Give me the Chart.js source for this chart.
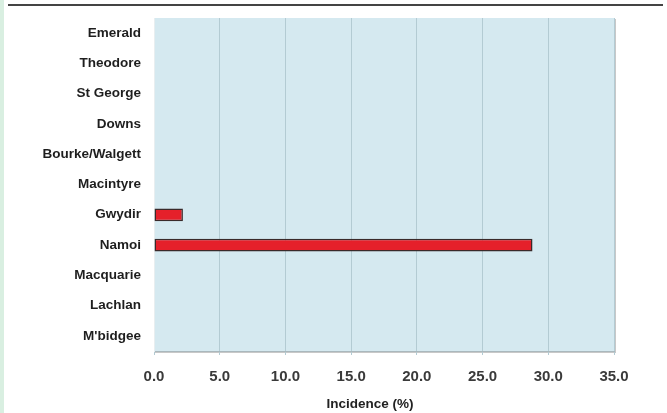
<!DOCTYPE html>
<html>
<head>
<meta charset="utf-8">
<script src="https://cdn.jsdelivr.net/npm/chart.js@4/dist/chart.umd.min.js"></script>
<style>
  html, body { margin: 0; padding: 0; background: #ffffff; }
  #wrap { position: relative; width: 667px; height: 413px; }
</style>
</head>
<body>
<div id="wrap"><canvas id="c" width="667" height="413"></canvas></div>
<script>
// Cotton-growing valleys, north to south
const valleys = ['Emerald', 'Theodore', 'St George', 'Downs', 'Bourke/Walgett', 'Macintyre',
                 'Gwydir', 'Namoi', 'Macquarie', 'Lachlan', "M'bidgee"];
// Incidence per valley (%), blank where none was recorded
const incidence = [null, null, null, null, null, null, 2.2, 28.8, null, null, null];
const xTicks = [0, 5, 10, 15, 20, 25, 30, 35];
const xTitle = 'Incidence (%)';

// Page frame: pale strip on the left, rule across the top, shaded plot box
const framePlugin = {
  id: 'frame',
  beforeDraw(chart) {
    const ctx = chart.ctx;
    ctx.save();
    ctx.fillStyle = '#d9efe1';
    ctx.fillRect(0, 0, 4, chart.height);
    ctx.strokeStyle = '#444444';
    ctx.lineWidth = 2;
    ctx.beginPath();
    ctx.moveTo(8, 5);
    ctx.lineTo(663, 5);
    ctx.stroke();
    const a = chart.chartArea;
    ctx.fillStyle = '#c8c8c8';
    ctx.fillRect(a.right, a.top + 1, 2, a.bottom - a.top + 1);
    ctx.fillRect(a.left + 1, a.bottom, a.right - a.left + 1, 2);
    ctx.fillStyle = '#d5e9f0';
    ctx.fillRect(a.left, a.top, a.right - a.left, a.bottom - a.top);
    ctx.restore();
  },
  afterDraw(chart) {
    // axis title, set a little left of the plot centre
    const ctx = chart.ctx;
    ctx.save();
    ctx.fillStyle = '#222222';
    ctx.font = 'bold 13.5px "Liberation Sans"';
    ctx.textAlign = 'center';
    ctx.textBaseline = 'middle';
    ctx.fillText(xTitle, 370, 404);
    ctx.restore();
  }
};

new Chart(document.getElementById('c'), {
  type: 'bar',
  data: {
    labels: valleys,
    datasets: [{
      data: incidence,
      backgroundColor: '#e5202a',
      borderColor: '#3a2a2a',
      borderWidth: 1.5,
      borderSkipped: false,
      barPercentage: 0.42,
      categoryPercentage: 1.0
    }]
  },
  options: {
    indexAxis: 'y',
    responsive: false,
    animation: false,
    devicePixelRatio: 1,
    layout: { padding: { left: 0, right: 53, top: 18, bottom: 0 } },
    plugins: { legend: { display: false }, tooltip: { enabled: false } },
    scales: {
      x: {
        min: 0, max: 35,
        afterBuildTicks(scale) { scale.ticks = xTicks.map(v => ({ value: v })); },
        afterFit(scale) { scale.height = 62; },
        grid: { color: '#b3cbd3', lineWidth: 1, tickLength: 4, drawTicks: true },
        border: { color: '#aab8bd', width: 1 },
        ticks: {
          color: '#3a3a3a',
          font: { family: 'Liberation Sans', size: 15, weight: 'bold' },
          padding: 13,
          maxRotation: 0,
          callback: v => Number(v).toFixed(1)
        },
        title: { display: false }
      },
      y: {
        afterFit(scale) { scale.width = 154; },
        grid: { display: false },
        border: { color: '#e8eef0', width: 1 },
        ticks: {
          color: '#1e1e1e',
          font: { family: 'Liberation Sans', size: 13.5, weight: 'bold' },
          padding: 5
        }
      }
    }
  },
  plugins: [framePlugin]
});
</script>
</body>
</html>
